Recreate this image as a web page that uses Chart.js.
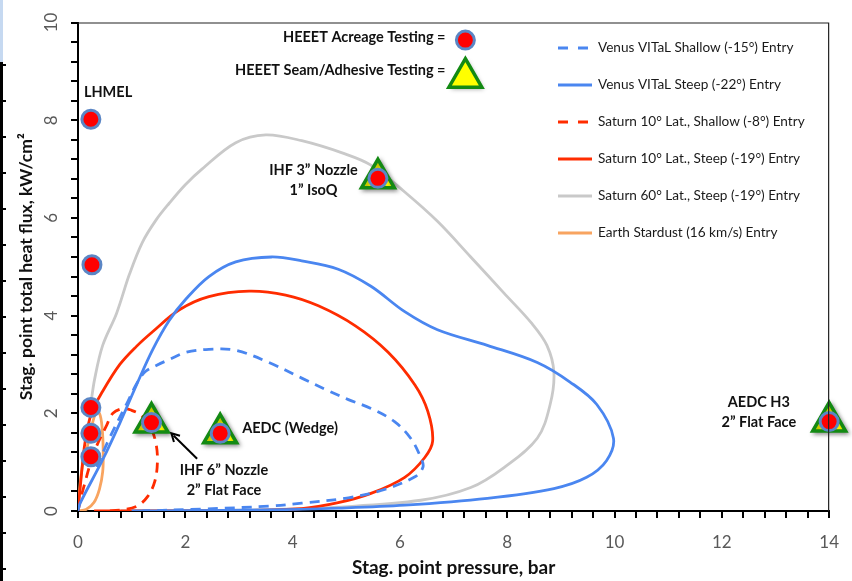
<!DOCTYPE html>
<html>
<head>
<meta charset="utf-8">
<script src="https://cdn.jsdelivr.net/npm/chart.js@4.4.1/dist/chart.umd.min.js"></script>
<style>
  html, body { margin: 0; padding: 0; background: #fff; }
  #wrap { width: 852px; height: 581px; }
</style>
</head>
<body>
<div id="wrap"><canvas id="chart" width="852" height="581"></canvas></div>
<script>
// Entry trajectories: pressure (bar) vs heat flux (kW/cm2)
const venusShallowP = [0.35, 0.59, 0.91, 1.09, 1.25, 1.46, 1.70, 2.02, 2.44, 2.94, 3.56, 4.17, 4.67, 5.04, 5.46, 5.9, 6.2, 6.39, 6.43, 6.28, 5.65, 5.04, 4.17, 3.56, 2.31, 1.2];
const venusShallowQ = [0.9, 1.5, 2.2, 2.6, 2.85, 2.98, 3.1, 3.25, 3.31, 3.29, 3.04, 2.72, 2.46, 2.28, 2.1, 1.83, 1.49, 1.09, 0.9, 0.7, 0.42, 0.27, 0.16, 0.1, 0.04, 0.0];

const venusSteepP = [0.0, 0.04, 0.46, 0.78, 1.09, 1.39, 1.70, 2.02, 2.44, 2.94, 3.61, 4.17, 4.85, 5.46, 6.09, 6.70, 7.63, 8.56, 9.17, 9.67, 9.98, 9.85, 9.48, 8.87, 7.63, 6.09, 4.85, 3.5, 2.0, 1.0];
const venusSteepQ = [0.0, 0.16, 1.05, 1.8, 2.58, 3.3, 3.9, 4.35, 4.8, 5.1, 5.2, 5.12, 4.95, 4.6, 4.08, 3.71, 3.39, 3.04, 2.64, 2.18, 1.49, 1.03, 0.69, 0.46, 0.26, 0.12, 0.06, 0.02, 0.005, 0.0];

const saturn10ShallowP = [0.0, 0.09, 0.3, 0.54, 0.65, 0.85, 1.0, 1.15, 1.33, 1.45, 1.48, 1.43, 1.3, 1.1, 0.8, 0.5];
const saturn10ShallowQ = [0.0, 0.42, 1.2, 1.77, 2.0, 2.1, 2.06, 1.98, 1.77, 1.4, 1.0, 0.6, 0.3, 0.1, 0.02, 0.0];

const saturn10SteepP = [0.0, 0.06, 0.13, 0.25, 0.46, 0.78, 1.09, 1.39, 1.89, 2.44, 3.19, 3.87, 4.48, 5.17, 5.78, 6.28, 6.52, 6.61, 6.46, 6.09, 5.46, 4.85, 4.17, 3.0, 1.5, 0.3];
const saturn10SteepQ = [0.0, 0.7, 1.4, 2.0, 2.45, 3.0, 3.37, 3.67, 4.12, 4.39, 4.5, 4.42, 4.2, 3.79, 3.25, 2.58, 2.04, 1.43, 1.09, 0.69, 0.36, 0.17, 0.05, 0.01, 0.0, 0.0];

const saturn60SteepP = [0.24, 0.31, 0.46, 0.72, 0.96, 1.2, 1.45, 1.70, 2.0, 2.31, 2.94, 3.5, 4.17, 4.95, 5.46, 6.09, 6.70, 7.32, 7.94, 8.45, 8.74, 8.87, 8.8, 8.56, 7.94, 7.32, 6.39, 4.85, 3.5, 2.0, 0.8];
const saturn60SteepQ = [2.2, 2.7, 3.39, 4.05, 4.85, 5.5, 5.95, 6.3, 6.68, 7.0, 7.54, 7.7, 7.58, 7.32, 7.08, 6.53, 5.93, 5.2, 4.46, 3.85, 3.39, 2.84, 2.18, 1.49, 0.89, 0.48, 0.22, 0.08, 0.03, 0.01, 0.0];

const stardustP = [0.0, 0.04, 0.09, 0.17, 0.25, 0.33, 0.4, 0.45, 0.47, 0.46, 0.4, 0.3, 0.15, 0.0];
const stardustQ = [0.0, 0.56, 0.97, 1.3, 1.7, 2.0, 2.0, 1.7, 1.2, 0.8, 0.45, 0.18, 0.03, 0.0];

// HEEET test conditions
const acreageP = [0.24, 0.26, 0.24, 0.24, 0.24, 1.37, 2.65, 5.59, 14.0];
const acreageQ = [8.02, 5.04, 2.12, 1.59, 1.11, 1.81, 1.59, 6.81, 1.83];
const seamP = [1.37, 2.65, 5.59, 14.0];
const seamQ = [1.81, 1.59, 6.81, 1.83];

const xTickLabels = [0, 2, 4, 6, 8, 10, 12, 14];
const yTickLabels = [0, 2, 4, 6, 8, 10];
const minorStep = 0.4;

const FONT = 'Lato, "Open Sans", sans-serif';
const BLUE = '#4a86f0';
const RED = '#ff2c00';
const GRAY = '#c9c9c9';
const ORANGE = '#f8a460';

function pts(xs, ys) {
  return xs.map((x, i) => ({ x: x, y: ys[i] }));
}

function curve(label, xs, ys, color, dashed) {
  return {
    label: label,
    data: pts(xs, ys),
    showLine: true,
    borderColor: color,
    borderWidth: 2.8,
    borderDash: dashed ? [10, 7] : [],
    pointRadius: 0,
    tension: 0.35,
    order: 2
  };
}

// text placed on the plot, in data units
const notes = [
  { text: 'LHMEL', x: 0.11, y: 8.57, align: 'left' },
  { text: 'HEEET Acreage Testing =', x: 6.85, y: 9.70, align: 'right' },
  { text: 'HEEET Seam/Adhesive Testing =', x: 6.85, y: 9.03, align: 'right' },
  { text: 'IHF 3\u201D Nozzle', x: 4.39, y: 6.98, align: 'center' },
  { text: '1\u201D IsoQ', x: 4.39, y: 6.57, align: 'center' },
  { text: 'AEDC (Wedge)', x: 3.06, y: 1.69, align: 'left' },
  { text: 'IHF 6\u201D Nozzle', x: 2.72, y: 0.83, align: 'center' },
  { text: '2\u201D Flat Face', x: 2.72, y: 0.42, align: 'center' },
  { text: 'AEDC H3', x: 12.69, y: 2.22, align: 'center' },
  { text: '2\u201D Flat Face', x: 12.69, y: 1.81, align: 'center' }
];
const keyCircle = { x: 7.22, y: 9.64 };
const keyTriangle = { x: 7.22, y: 8.87 };
const arrow = { x1: 2.22, y1: 1.07, x2: 1.74, y2: 1.59 };

function drawCircle(ctx, x, y) {
  ctx.beginPath();
  ctx.arc(x, y, 9, 0, Math.PI * 2);
  ctx.fillStyle = '#ff0000';
  ctx.fill();
  ctx.lineWidth = 3;
  ctx.strokeStyle = '#5b86c5';
  ctx.stroke();
}

function drawTriangle(ctx, x, y, r) {
  ctx.save();
  ctx.shadowColor = 'rgba(0,0,0,0.35)';
  ctx.shadowBlur = 4;
  ctx.shadowOffsetX = 2;
  ctx.shadowOffsetY = 2;
  ctx.beginPath();
  ctx.moveTo(x, y - r);
  ctx.lineTo(x + r * Math.sin(Math.PI * 2 / 3), y + r / 2);
  ctx.lineTo(x - r * Math.sin(Math.PI * 2 / 3), y + r / 2);
  ctx.closePath();
  ctx.fillStyle = '#ffff00';
  ctx.fill();
  ctx.shadowColor = 'transparent';
  ctx.lineWidth = 3.5;
  ctx.strokeStyle = '#138a13';
  ctx.stroke();
  ctx.restore();
}

const overlay = {
  id: 'overlay',
  beforeDraw(chart) {
    const ctx = chart.ctx;
    ctx.save();
    // edge of the neighbouring slide element
    ctx.fillStyle = '#c6d9f1';
    ctx.fillRect(0, 0, 3, 62);
    ctx.fillStyle = '#000';
    ctx.fillRect(0, 62, 3, 519);
    for (let y = 64; y < 581; y += 36) ctx.fillRect(0, y, 6, 2);
    ctx.restore();
  },
  beforeDatasetDraw(chart, args) {
    if (args.index === 1) {
      const ctx = chart.ctx;
      ctx.save();
      ctx.shadowColor = 'rgba(0,0,0,0.35)';
      ctx.shadowBlur = 4;
      ctx.shadowOffsetX = 2;
      ctx.shadowOffsetY = 2;
    }
  },
  afterDatasetDraw(chart, args) {
    if (args.index === 1) chart.ctx.restore();
  },
  afterDraw(chart) {
    const ctx = chart.ctx;
    const xs = chart.scales.x, ys = chart.scales.y;
    const a = chart.chartArea;
    ctx.save();
    ctx.setLineDash([]);
    ctx.shadowColor = 'transparent';

    // frame top / right
    ctx.strokeStyle = '#222';
    ctx.lineWidth = 1.2;
    ctx.beginPath();
    ctx.moveTo(a.left, a.top + 0.5);
    ctx.lineTo(a.right - 0.5, a.top + 0.5);
    ctx.lineTo(a.right - 0.5, a.bottom);
    ctx.stroke();

    // outward tick marks every 0.4 on both axes
    ctx.fillStyle = '#000';
    for (let i = 0; i * minorStep <= xs.max + 1e-9; i++) {
      const px = Math.round(xs.getPixelForValue(i * minorStep));
      ctx.fillRect(px - 1, a.bottom, 2, 7);
    }
    for (let i = 0; i * minorStep <= ys.max + 1e-9; i++) {
      const py = Math.round(ys.getPixelForValue(i * minorStep));
      ctx.fillRect(a.left - 7, py - 1, 7, 2);
    }

    // rotated y tick labels
    ctx.fillStyle = '#595959';
    ctx.font = '17px ' + FONT;
    ctx.textAlign = 'center';
    ctx.textBaseline = 'middle';
    yTickLabels.forEach(v => {
      ctx.save();
      ctx.translate(52, ys.getPixelForValue(v));
      ctx.rotate(-Math.PI / 2);
      ctx.fillText(String(v), 0, 0);
      ctx.restore();
    });

    // notes
    ctx.fillStyle = '#111';
    ctx.font = 'bold 14.5px ' + FONT;
    notes.forEach(n => {
      ctx.textAlign = n.align;
      ctx.fillText(n.text, xs.getPixelForValue(n.x), ys.getPixelForValue(n.y));
    });

    // key symbols
    drawCircle(ctx, xs.getPixelForValue(keyCircle.x), ys.getPixelForValue(keyCircle.y));
    drawTriangle(ctx, xs.getPixelForValue(keyTriangle.x), ys.getPixelForValue(keyTriangle.y), 19);

    // arrow to IHF 6" point
    const ax1 = xs.getPixelForValue(arrow.x1), ay1 = ys.getPixelForValue(arrow.y1);
    const ax2 = xs.getPixelForValue(arrow.x2), ay2 = ys.getPixelForValue(arrow.y2);
    const ang = Math.atan2(ay2 - ay1, ax2 - ax1);
    ctx.strokeStyle = '#000';
    ctx.lineWidth = 2;
    ctx.beginPath();
    ctx.moveTo(ax1, ay1);
    ctx.lineTo(ax2 - 3 * Math.cos(ang), ay2 - 3 * Math.sin(ang));
    ctx.stroke();
    ctx.beginPath();
    ctx.moveTo(ax2 - 9 * Math.cos(ang - 0.5), ay2 - 9 * Math.sin(ang - 0.5));
    ctx.lineTo(ax2, ay2);
    ctx.lineTo(ax2 - 9 * Math.cos(ang + 0.5), ay2 - 9 * Math.sin(ang + 0.5));
    ctx.stroke();

    // legend
    const lx = 558, tx = 598, ly0 = 48, step = 37;
    ctx.font = '13.6px ' + FONT;
    ctx.textAlign = 'left';
    ctx.textBaseline = 'middle';
    chart.data.datasets.filter(d => d.showLine).forEach((d, i) => {
      const y = ly0 + i * step;
      ctx.strokeStyle = d.borderColor;
      ctx.lineWidth = 2.8;
      ctx.setLineDash(d.borderDash.length ? [10, 10] : []);
      ctx.beginPath();
      ctx.moveTo(lx, y);
      ctx.lineTo(lx + 34, y);
      ctx.stroke();
      ctx.setLineDash([]);
      ctx.fillStyle = '#1a1a1a';
      ctx.fillText(d.label, tx, y);
    });
    ctx.restore();
  }
};

new Chart(document.getElementById('chart'), {
  type: 'scatter',
  data: {
    datasets: [
      {
        label: 'HEEET Acreage Testing',
        data: pts(acreageP, acreageQ),
        pointStyle: 'circle',
        pointRadius: 9,
        pointBackgroundColor: '#ff0000',
        pointBorderColor: '#5b86c5',
        pointBorderWidth: 3,
        clip: false,
        order: 0
      },
      {
        label: 'HEEET Seam/Adhesive Testing',
        data: pts(seamP, seamQ),
        pointStyle: 'triangle',
        pointRadius: 19,
        pointBackgroundColor: '#ffff00',
        pointBorderColor: '#138a13',
        pointBorderWidth: 3.5,
        clip: false,
        order: 1
      },
      curve('Venus VITaL Shallow (-15\u00B0) Entry', venusShallowP, venusShallowQ, BLUE, true),
      curve('Venus VITaL Steep (-22\u00B0) Entry', venusSteepP, venusSteepQ, BLUE, false),
      curve('Saturn 10\u00B0 Lat., Shallow (-8\u00B0) Entry', saturn10ShallowP, saturn10ShallowQ, RED, true),
      curve('Saturn 10\u00B0 Lat., Steep (-19\u00B0) Entry', saturn10SteepP, saturn10SteepQ, RED, false),
      curve('Saturn 60\u00B0 Lat., Steep (-19\u00B0) Entry', saturn60SteepP, saturn60SteepQ, GRAY, false),
      curve('Earth Stardust (16 km/s) Entry', stardustP, stardustQ, ORANGE, false)
    ]
  },
  options: {
    responsive: false,
    animation: false,
    events: [],
    layout: { padding: { top: 15, right: 18, left: 0, bottom: 0 } },
    plugins: {
      legend: { display: false },
      tooltip: { enabled: false }
    },
    scales: {
      x: {
        type: 'linear',
        min: 0,
        max: 14,
        afterFit: s => { s.height = 70; },
        ticks: {
          stepSize: minorStep,
          autoSkip: false,
          maxRotation: 0,
          padding: 13,
          color: '#595959',
          font: { family: FONT, size: 17 },
          callback: v => {
            const k = xTickLabels.find(t => Math.abs(t - v) < 1e-6);
            return k === undefined ? '' : String(k);
          }
        },
        grid: { display: false },
        border: { color: '#000', width: 2 },
        title: {
          display: true,
          text: 'Stag. point pressure, bar',
          color: '#111',
          font: { family: FONT, size: 19, weight: 'bold' },
          padding: { top: 0, bottom: 2 }
        }
      },
      y: {
        type: 'linear',
        min: 0,
        max: 10,
        afterFit: s => { s.width = 78; },
        ticks: { stepSize: minorStep, display: false },
        grid: { display: false },
        border: { color: '#000', width: 2 },
        title: {
          display: true,
          text: 'Stag. point total heat flux, kW/cm\u00B2',
          color: '#111',
          font: { family: FONT, size: 17.5, weight: 'bold' },
          padding: { top: 16, bottom: 0 }
        }
      }
    }
  },
  plugins: [overlay]
});
</script>
</body>
</html>
